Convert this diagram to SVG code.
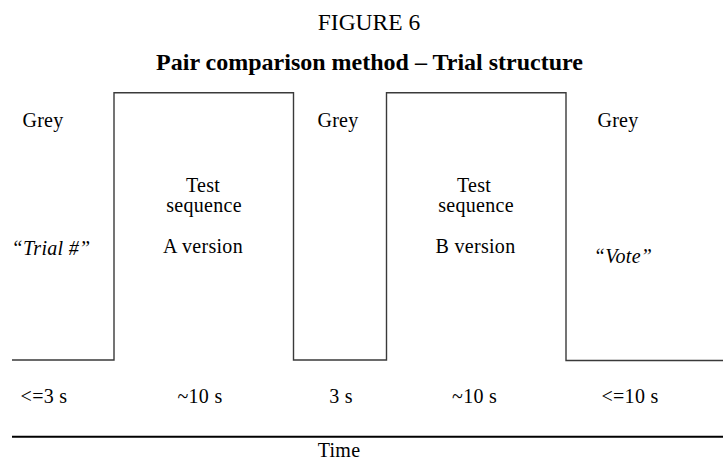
<svg xmlns="http://www.w3.org/2000/svg" width="723" height="461" viewBox="0 0 723 461">
<style>
text{font-family:"Liberation Serif","Times New Roman",serif;fill:#000;text-anchor:middle}
.t{font-size:20px;letter-spacing:0.3px}
.i{font-size:20px;font-style:italic;letter-spacing:0.3px}
.h{font-size:23.5px}
.b{font-size:24px;font-weight:bold}
.wave{fill:none;stroke:#3a3a3a;stroke-width:1.4}
.axis{stroke:#000;stroke-width:2}
</style>
<rect width="723" height="461" fill="#fff"/>
<g id="title">
<text class="h" x="369" y="30">FIGURE 6</text>
<text class="b" x="369.5" y="70">Pair comparison method – Trial structure</text>
</g>
<g id="connectors">
<polyline class="wave" points="12,360 114,360 114,92.7 293.5,92.7 293.5,360 386.5,360 386.5,92.7 566,92.7 566,360.5 723,360.5"/>
<line class="axis" x1="12" y1="436.7" x2="723" y2="436.7"/>
</g>
<g id="grey1">
<text class="t" x="43" y="127">Grey</text>
<text class="i" x="51" y="255">“Trial #”</text>
</g>
<g id="seqA">
<text class="t" x="203" y="191.7">Test</text>
<text class="t" x="204" y="211.7">sequence</text>
<text class="t" x="203" y="252.7">A version</text>
</g>
<g id="grey2">
<text class="t" x="338" y="127">Grey</text>
</g>
<g id="seqB">
<text class="t" x="474" y="191.7">Test</text>
<text class="t" x="476" y="211.7">sequence</text>
<text class="t" x="475.5" y="252.7">B version</text>
</g>
<g id="grey3">
<text class="t" x="618" y="127">Grey</text>
<text class="i" x="623" y="263.3">“Vote”</text>
</g>
<g id="durations">
<text class="t" x="44" y="403">&lt;=3 s</text>
<text class="t" x="200" y="403">~10 s</text>
<text class="t" x="341" y="403">3 s</text>
<text class="t" x="474.6" y="403">~10 s</text>
<text class="t" x="630" y="403">&lt;=10 s</text>
</g>
<g id="time">
<text class="t" x="339" y="457">Time</text>
</g>
</svg>
